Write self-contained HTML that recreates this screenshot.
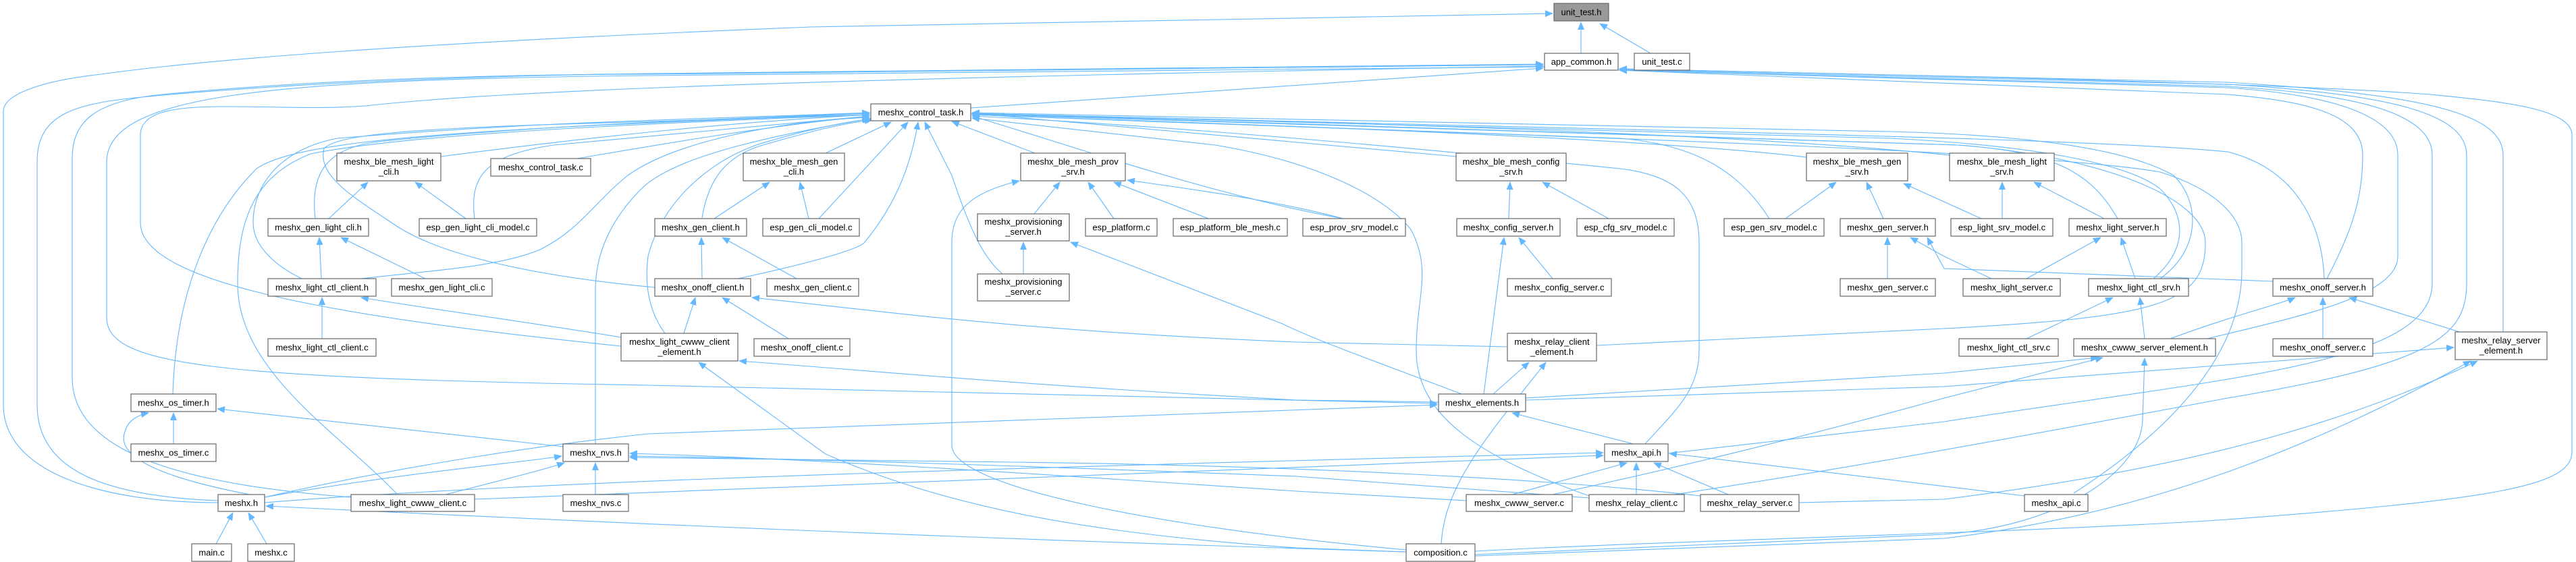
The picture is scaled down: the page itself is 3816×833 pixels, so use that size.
<!DOCTYPE html>
<html><head><meta charset="utf-8"><style>
html,body{margin:0;padding:0;background:#fff;}
svg{display:block;}
text{font-family:"Liberation Sans",Arial,sans-serif;font-size:13px;fill:#000;text-anchor:middle;}
.n{fill:#fff;stroke:#666;stroke-width:1.2;}
.e{fill:none;stroke:#63b8ff;stroke-width:1.1;marker-end:url(#a);}
</style></head><body>
<svg width="3816" height="833" viewBox="0 0 3816 833" xmlns="http://www.w3.org/2000/svg">
<defs><marker id="a" markerWidth="12" markerHeight="10" refX="11" refY="5" orient="auto" markerUnits="userSpaceOnUse"><path d="M0,0 L12,5 L0,10 z" fill="#63b8ff"/></marker></defs>
<g>
<path class="e" d="M2342,79 L2342,33"/>
<path class="e" d="M2445,79 L2370,35"/>
<path class="e" d="M323,745 C150,745 5,700 5,600 L5,165 C5,140 60,120 150,110 C400,75 900,52 1200,40 L2300,20"/>
<path class="e" d="M323,742 C140,735 55,690 55,600 L55,240 C55,175 100,155 200,145 C400,125 700,112 960,109 L2286,95"/>
<path class="e" d="M520,737 C300,720 107,680 107,560 L107,235 C107,180 140,150 240,140 C500,115 800,110 960,110 L2286,96"/>
<path class="e" d="M2288,99 L960,112 C400,118 158,140 158,240 L158,470 C158,540 300,560 960,571 L2129,598"/>
<path class="e" d="M920,513 C500,470 208,420 208,330 L208,200 C208,165 260,158 330,158 C430,158 470,162 540,157 C700,140 1000,120 2286,98"/>
<path class="e" d="M1438,160 L2286,101"/>
<path class="e" d="M3447,413 C3480,350 3500,300 3500,230 C3500,170 3420,150 3300,140 L2399,104"/>
<path class="e" d="M3270,502 C3400,470 3552,440 3552,380 L3552,230 C3552,170 3450,140 3300,130 L2399,104"/>
<path class="e" d="M2471,672 L2880,625 C3300,560 3603,540 3603,420 L3603,230 C3603,170 3500,140 3300,128 L2399,104"/>
<path class="e" d="M2480,733 C2700,700 2880,668 3300,590 C3600,540 3654,500 3654,420 L3654,230 C3654,170 3550,140 3300,125 L2399,103"/>
<path class="e" d="M3708,492 L3708,230 C3708,170 3600,140 3300,122 L2399,102"/>
<path class="e" d="M2185,817 C2500,800 3000,790 3300,770 C3700,740 3810,720 3810,670 L3810,200 C3810,160 3700,150 3600,140 C3400,125 3000,115 2399,102"/>
<path class="e" d="M2157,232 L1440,168"/>
<path class="e" d="M2676,233 C2400,200 1700,180 1440,170"/>
<path class="e" d="M2888,230 C2500,190 1700,175 1440,169"/>
<path class="e" d="M1990,324 C1800,290 1600,220 1440,172"/>
<path class="e" d="M2621,324 C2580,260 2520,215 2400,205 L1440,170"/>
<path class="e" d="M3137,324 C3100,260 3050,225 2900,215 L1440,169"/>
<path class="e" d="M3190,413 C3240,370 3240,320 3200,280 C3150,240 3000,215 2800,205 L1440,168"/>
<path class="e" d="M3200,413 C3260,370 3260,300 3220,260 C3150,220 3000,200 2800,195 L1440,167"/>
<path class="e" d="M3443,413 C3440,330 3400,250 3300,225 C3100,205 2500,195 1440,168"/>
<path class="e" d="M2437,658 C2480,610 2517,580 2517,520 L2517,360 C2517,290 2480,260 2400,250 C2200,230 1800,190 1440,172"/>
<path class="e" d="M2354,735 C2200,680 2098,620 2098,520 C2098,440 2122,400 2090,340 C2050,290 1950,240 1800,215 L1440,175"/>
<path class="e" d="M3072,731 C3150,680 3321,560 3321,400 L3321,360 C3321,320 3280,280 3200,255 C3000,220 2200,200 1440,170"/>
<path class="e" d="M2365,512 L2880,487 C3200,470 3267,450 3267,360 C3267,290 3100,230 2900,215 L1440,168"/>
<path class="e" d="M653,232 C900,200 1100,180 1288,170"/>
<path class="e" d="M855,235 C1000,210 1150,185 1288,172"/>
<path class="e" d="M467,324 C460,260 480,220 560,210 C800,185 1100,175 1288,168"/>
<path class="e" d="M703,324 C695,260 720,230 820,215 L1288,172"/>
<path class="e" d="M447,413 C400,390 375,360 375,330 C375,270 420,220 500,205 C800,180 1000,178 1288,167"/>
<path class="e" d="M535,413 C650,400 740,395 800,370 C860,340 880,300 930,260 C1000,210 1150,180 1288,174"/>
<path class="e" d="M256,584 C260,450 300,330 380,250 C430,215 600,200 900,185 L1288,168"/>
<path class="e" d="M588,732 C500,640 352,550 352,420 C352,320 380,260 460,228 C600,200 900,185 1288,170"/>
<path class="e" d="M882,658 L882,430 C882,370 910,320 950,280 C1000,230 1150,200 1288,176"/>
<path class="e" d="M970,426 C800,410 650,380 580,330 C520,290 470,260 480,220 C500,200 600,190 900,182 L1288,170"/>
<path class="e" d="M1040,323 C1050,260 1080,230 1130,215 C1200,195 1250,182 1292,178"/>
<path class="e" d="M1213,324 L1345,181"/>
<path class="e" d="M1223,227 L1320,181"/>
<path class="e" d="M1093,413 C1200,390 1270,370 1280,360 C1330,300 1350,240 1360,181"/>
<path class="e" d="M985,494 C960,460 955,420 960,380 C980,300 1050,240 1120,215 C1200,190 1260,180 1290,176"/>
<path class="e" d="M1485,406 C1460,385 1440,350 1410,260 L1370,181"/>
<path class="e" d="M1533,227 L1410,180"/>
<path class="e" d="M487,324 L545,270"/>
<path class="e" d="M690,324 L615,270"/>
<path class="e" d="M476,413 L473,352"/>
<path class="e" d="M630,413 L505,352"/>
<path class="e" d="M477,502 L477,441"/>
<path class="e" d="M920,500 C800,480 650,460 535,441"/>
<path class="e" d="M1013,494 L1030,441"/>
<path class="e" d="M1168,502 L1070,441"/>
<path class="e" d="M1058,324 L1140,270"/>
<path class="e" d="M1198,324 L1185,270"/>
<path class="e" d="M1040,413 L1039,352"/>
<path class="e" d="M1180,413 L1070,352"/>
<path class="e" d="M1532,317 L1570,270"/>
<path class="e" d="M1650,324 L1612,270"/>
<path class="e" d="M1790,324 L1650,270"/>
<path class="e" d="M1990,324 C1900,300 1800,285 1670,267"/>
<path class="e" d="M1516,406 L1516,359"/>
<path class="e" d="M2165,584 C2050,540 1950,505 1900,480 L1586,359"/>
<path class="e" d="M2083,815 C1700,780 1410,720 1410,660 L1410,360 C1410,310 1440,285 1510,268"/>
<path class="e" d="M2235,324 L2237,270"/>
<path class="e" d="M2383,324 L2285,270"/>
<path class="e" d="M2300,413 L2250,352"/>
<path class="e" d="M2198,584 L2228,352"/>
<path class="e" d="M2212,584 L2265,537"/>
<path class="e" d="M2135,806 C2140,720 2200,650 2290,537"/>
<path class="e" d="M2233,514 L1920,507 C1500,490 1300,460 1114,441"/>
<path class="e" d="M2131,596 L1920,593 C1500,570 1300,550 1095,535"/>
<path class="e" d="M2083,818 L1920,812 C1600,790 1400,750 1223,673 C1150,620 1080,570 1035,537"/>
<path class="e" d="M2645,324 L2720,270"/>
<path class="e" d="M2790,324 L2765,270"/>
<path class="e" d="M2796,413 L2796,352"/>
<path class="e" d="M2950,413 L2880,380 L2830,352"/>
<path class="e" d="M3367,417 L2880,398 L2855,352"/>
<path class="e" d="M2966,324 L2966,270"/>
<path class="e" d="M3117,324 L3013,270"/>
<path class="e" d="M2935,324 L2820,272"/>
<path class="e" d="M3002,413 L3112,352"/>
<path class="e" d="M3163,413 L3142,352"/>
<path class="e" d="M3002,502 L3130,441"/>
<path class="e" d="M3177,502 L3170,441"/>
<path class="e" d="M3215,502 C3300,470 3380,450 3400,441"/>
<path class="e" d="M3441,502 L3441,441"/>
<path class="e" d="M3650,494 L3480,441"/>
<path class="e" d="M2260,593 L2880,573 L3635,515"/>
<path class="e" d="M2260,590 L2880,553 L3108,530"/>
<path class="e" d="M2300,733 C2500,690 2700,640 2880,590 L3115,530"/>
<path class="e" d="M2185,822 L2880,792 C3050,780 3174,700 3174,620 L3177,531"/>
<path class="e" d="M2185,824 L2880,798 C3200,760 3450,650 3660,535"/>
<path class="e" d="M2665,745 L2880,740 C3200,700 3450,640 3670,535"/>
<path class="e" d="M2420,658 L2240,612"/>
<path class="e" d="M392,737 C600,690 800,660 960,643 L2129,600"/>
<path class="e" d="M392,737 C600,700 780,685 832,676"/>
<path class="e" d="M660,733 C750,710 810,695 836,686"/>
<path class="e" d="M882,733 L882,686"/>
<path class="e" d="M834,662 L322,606"/>
<path class="e" d="M370,733 C250,710 170,680 185,640 C190,620 210,614 220,612"/>
<path class="e" d="M257,658 L257,612"/>
<path class="e" d="M320,806 L345,760"/>
<path class="e" d="M395,806 L368,760"/>
<path class="e" d="M2083,818 C1500,800 1000,780 394,750"/>
<path class="e" d="M2172,742 L1920,728 C1500,700 1200,680 933,672"/>
<path class="e" d="M2354,738 L1920,706 C1500,690 1200,680 933,676"/>
<path class="e" d="M2519,735 C2300,710 1920,690 1500,685 L933,678"/>
<path class="e" d="M392,745 C700,720 1200,700 2375,671"/>
<path class="e" d="M703,740 L2375,675"/>
<path class="e" d="M2240,733 L2410,686"/>
<path class="e" d="M2424,733 L2424,686"/>
<path class="e" d="M2560,733 L2450,686"/>
<path class="e" d="M2999,735 L2473,672"/>
</g>
<g>
<rect x="2302" y="5" width="81" height="26" fill="#999" stroke="#666" stroke-width="1.2"/><text x="2342.5" y="22.5">unit_test.h</text>
<rect class="n" x="2288" y="79" width="109" height="25"/><text x="2342.5" y="96">app_common.h</text>
<rect class="n" x="2421" y="79" width="82" height="25"/><text x="2462" y="96">unit_test.c</text>
<rect class="n" x="1290" y="154" width="148" height="25"/><text x="1364" y="171">meshx_control_task.h</text>
<rect class="n" x="499" y="227" width="154" height="41"/><text x="576" y="244">meshx_ble_mesh_light</text><text x="576" y="259">_cli.h</text>
<rect class="n" x="727" y="235" width="148" height="26"/><text x="801" y="252.5">meshx_control_task.c</text>
<rect class="n" x="1101" y="227" width="150" height="41"/><text x="1176" y="244">meshx_ble_mesh_gen</text><text x="1176" y="259">_cli.h</text>
<rect class="n" x="1512" y="227" width="155" height="41"/><text x="1589.5" y="244">meshx_ble_mesh_prov</text><text x="1589.5" y="259">_srv.h</text>
<rect class="n" x="2157" y="227" width="163" height="41"/><text x="2238.5" y="244">meshx_ble_mesh_config</text><text x="2238.5" y="259">_srv.h</text>
<rect class="n" x="2676" y="227" width="150" height="41"/><text x="2751" y="244">meshx_ble_mesh_gen</text><text x="2751" y="259">_srv.h</text>
<rect class="n" x="2888" y="227" width="155" height="41"/><text x="2965.5" y="244">meshx_ble_mesh_light</text><text x="2965.5" y="259">_srv.h</text>
<rect class="n" x="397" y="324" width="149" height="26"/><text x="471.5" y="341.5">meshx_gen_light_cli.h</text>
<rect class="n" x="621" y="324" width="174" height="26"/><text x="708" y="341.5">esp_gen_light_cli_model.c</text>
<rect class="n" x="970" y="324" width="136" height="26"/><text x="1038" y="341.5">meshx_gen_client.h</text>
<rect class="n" x="1130" y="324" width="143" height="26"/><text x="1201.5" y="341.5">esp_gen_cli_model.c</text>
<rect class="n" x="1448" y="317" width="136" height="40"/><text x="1516" y="333">meshx_provisioning</text><text x="1516" y="348">_server.h</text>
<rect class="n" x="1608" y="324" width="106" height="26"/><text x="1661" y="341.5">esp_platform.c</text>
<rect class="n" x="1738" y="324" width="169" height="26"/><text x="1822.5" y="341.5">esp_platform_ble_mesh.c</text>
<rect class="n" x="1930" y="324" width="152" height="26"/><text x="2006" y="341.5">esp_prov_srv_model.c</text>
<rect class="n" x="2158" y="324" width="153" height="26"/><text x="2234.5" y="341.5">meshx_config_server.h</text>
<rect class="n" x="2336" y="324" width="144" height="26"/><text x="2408" y="341.5">esp_cfg_srv_model.c</text>
<rect class="n" x="2554" y="324" width="148" height="26"/><text x="2628" y="341.5">esp_gen_srv_model.c</text>
<rect class="n" x="2726" y="324" width="141" height="26"/><text x="2796.5" y="341.5">meshx_gen_server.h</text>
<rect class="n" x="2890" y="324" width="151" height="26"/><text x="2965.5" y="341.5">esp_light_srv_model.c</text>
<rect class="n" x="3065" y="324" width="144" height="26"/><text x="3137" y="341.5">meshx_light_server.h</text>
<rect class="n" x="397" y="413" width="160" height="26"/><text x="477" y="430.5">meshx_light_ctl_client.h</text>
<rect class="n" x="580" y="413" width="149" height="26"/><text x="654.5" y="430.5">meshx_gen_light_cli.c</text>
<rect class="n" x="970" y="413" width="142" height="26"/><text x="1041" y="430.5">meshx_onoff_client.h</text>
<rect class="n" x="1136" y="413" width="136" height="26"/><text x="1204" y="430.5">meshx_gen_client.c</text>
<rect class="n" x="1448" y="406" width="136" height="40"/><text x="1516" y="422">meshx_provisioning</text><text x="1516" y="437">_server.c</text>
<rect class="n" x="2233" y="413" width="154" height="26"/><text x="2310" y="430.5">meshx_config_server.c</text>
<rect class="n" x="2726" y="413" width="141" height="26"/><text x="2796.5" y="430.5">meshx_gen_server.c</text>
<rect class="n" x="2908" y="413" width="144" height="26"/><text x="2980" y="430.5">meshx_light_server.c</text>
<rect class="n" x="3094" y="413" width="148" height="26"/><text x="3168" y="430.5">meshx_light_ctl_srv.h</text>
<rect class="n" x="3367" y="413" width="148" height="26"/><text x="3441" y="430.5">meshx_onoff_server.h</text>
<rect class="n" x="397" y="502" width="160" height="26"/><text x="477" y="519.5">meshx_light_ctl_client.c</text>
<rect class="n" x="920" y="494" width="173" height="41"/><text x="1006.5" y="511">meshx_light_cwww_client</text><text x="1006.5" y="526">_element.h</text>
<rect class="n" x="1117" y="502" width="142" height="26"/><text x="1188" y="519.5">meshx_onoff_client.c</text>
<rect class="n" x="2233" y="494" width="132" height="41"/><text x="2299" y="511">meshx_relay_client</text><text x="2299" y="526">_element.h</text>
<rect class="n" x="2902" y="502" width="147" height="26"/><text x="2975.5" y="519.5">meshx_light_ctl_srv.c</text>
<rect class="n" x="3072" y="502" width="210" height="26"/><text x="3177" y="519.5">meshx_cwww_server_element.h</text>
<rect class="n" x="3367" y="502" width="148" height="26"/><text x="3441" y="519.5">meshx_onoff_server.c</text>
<rect class="n" x="3637" y="492" width="136" height="41"/><text x="3705" y="509">meshx_relay_server</text><text x="3705" y="524">_element.h</text>
<rect class="n" x="194" y="584" width="126" height="26"/><text x="257" y="601.5">meshx_os_timer.h</text>
<rect class="n" x="2131" y="584" width="129" height="26"/><text x="2195.5" y="601.5">meshx_elements.h</text>
<rect class="n" x="194" y="658" width="126" height="26"/><text x="257" y="675.5">meshx_os_timer.c</text>
<rect class="n" x="834" y="658" width="97" height="26"/><text x="882.5" y="675.5">meshx_nvs.h</text>
<rect class="n" x="2377" y="658" width="94" height="26"/><text x="2424" y="675.5">meshx_api.h</text>
<rect class="n" x="323" y="733" width="69" height="25"/><text x="357.5" y="750">meshx.h</text>
<rect class="n" x="520" y="733" width="183" height="25"/><text x="611.5" y="750">meshx_light_cwww_client.c</text>
<rect class="n" x="834" y="733" width="97" height="25"/><text x="882.5" y="750">meshx_nvs.c</text>
<rect class="n" x="2172" y="733" width="157" height="25"/><text x="2250.5" y="750">meshx_cwww_server.c</text>
<rect class="n" x="2354" y="733" width="141" height="25"/><text x="2424.5" y="750">meshx_relay_client.c</text>
<rect class="n" x="2519" y="733" width="146" height="25"/><text x="2592" y="750">meshx_relay_server.c</text>
<rect class="n" x="2999" y="733" width="94" height="25"/><text x="3046" y="750">meshx_api.c</text>
<rect class="n" x="284" y="806" width="59" height="26"/><text x="313.5" y="823.5">main.c</text>
<rect class="n" x="367" y="806" width="69" height="26"/><text x="401.5" y="823.5">meshx.c</text>
<rect class="n" x="2083" y="806" width="102" height="26"/><text x="2134" y="823.5">composition.c</text>
</g>
</svg>
</body></html>
